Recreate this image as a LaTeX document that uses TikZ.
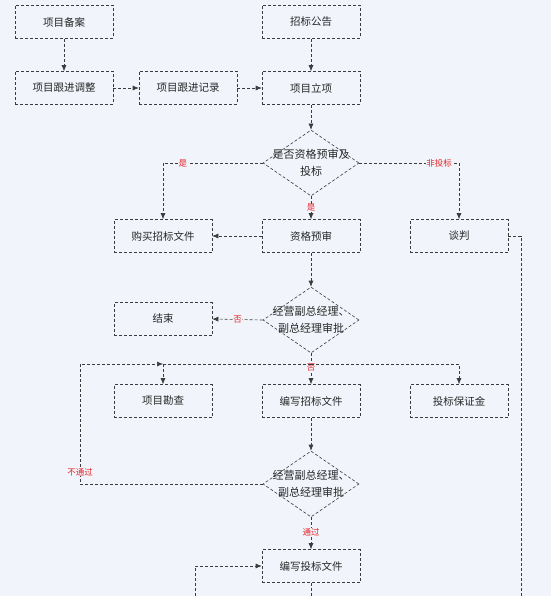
\documentclass[tikz,border=0pt]{standalone}
\usepackage{fontspec}
\setmainfont{Noto Sans CJK SC}
\usetikzlibrary{shapes.geometric,arrows.meta}
\definecolor{bgblue}{RGB}{241,245,251}
\definecolor{linegray}{RGB}{60,60,60}
\definecolor{labelred}{RGB}{228,38,42}
\tikzset{box/.style={draw=linegray,densely dashed,line width=0.6pt,fill=bgblue,minimum width=98pt,minimum height=33pt,font=\fontsize{10.5}{12}\selectfont,text=black!85}}
\tikzset{decision/.style={diamond,draw=linegray,densely dashed,line width=0.6pt,minimum width=96pt,minimum height=66pt,inner sep=0pt}}
\tikzset{dtext/.style={align=center,font=\fontsize{11}{17}\selectfont,text=black!85}}
\tikzset{flow/.style={densely dashed,line width=0.6pt,draw=linegray,-{Latex[length=6pt,width=5pt]}}}
\tikzset{link/.style={densely dashed,line width=0.6pt,draw=linegray}}
\tikzset{yesno/.style={text=labelred,fill=bgblue,inner sep=0.5pt,font=\fontsize{8.5}{10}\selectfont}}

\begin{document}
\begin{tikzpicture}[x=1pt,y=-1pt]
        % Background and page size
        \fill[bgblue] (0,0) rectangle (551,596);
        \useasboundingbox (0,0) rectangle (551,596);
        % Top rows
        \node[box] (beian) at (64,22) {项目备案};
        \node[box] (tiaozheng) at (64,88) {项目跟进调整};
        \node[box] (jilu) at (188,88) {项目跟进记录};
        \node[box] (gonggao) at (311,22) {招标公告};
        \node[box] (lixiang) at (311,88) {项目立项};
        % First decision
        \node[decision] (d1) at (311,163) {};
        \node[dtext] (d1text) at (d1) {是否资格预审及\\投标};
        \node[box] (goumai) at (163,236) {购买招标文件};
        \node[box] (zige) at (311,236) {资格预审};
        \node[box] (tanpan) at (459,236) {谈判};
        % Second decision
        \node[decision] (d2) at (311,320) {};
        \node[dtext] (d2text) at (d2) {经营副总经理、\\副总经理审批};
        \node[box] (jieshu) at (163,319) {结束};
        \node[box] (kancha) at (163,401) {项目勘查};
        \node[box] (zhaobiao) at (311,401) {编写招标文件};
        \node[box] (baozheng) at (459,401) {投标保证金};
        % Third decision
        \node[decision] (d3) at (311,484) {};
        \node[dtext] (d3text) at (d3) {经营副总经理、\\副总经理审批};
        \node[box] (toubiao) at (311,566) {编写投标文件};
        % Helper coordinates
        \coordinate (fork) at (311,364);
        \coordinate (kc) at (163,364);
        \coordinate (loop) at (80,364);
        \coordinate (inlow) at (195,596);
        \coordinate (outlow) at (311,596);
        \coordinate (tanlow) at (521,596);
        % Connectors
        \draw[flow] (beian) -- (tiaozheng);
        \draw[flow] (tiaozheng) -- (jilu);
        \draw[flow] (jilu) -- (lixiang);
        \draw[flow] (gonggao) -- (lixiang);
        \draw[flow] (lixiang) -- (d1);
        \draw[flow] (d1.west) -| (goumai.north) node[yesno,pos=0.4]{是};
        \draw[flow] (d1.east) -| (tanpan.north) node[yesno,pos=0.4]{非投标};
        \draw[flow] (d1.south) -- (zige.north) node[yesno,midway]{是};
        \draw[flow] (zige) -- (goumai);
        \draw[flow] (zige) -- (d2);
        \draw[flow] (d2.west) -- (jieshu.east) node[yesno,midway]{否};
        \draw[flow] (d2.south) -- (zhaobiao.north) node[yesno,pos=0.45]{否};
        \draw[flow] (kc) -- (kancha.north);
        \draw[flow] (fork) -| (baozheng.north);
        \draw[link] (fork) -- (kc);
        \draw[flow] (zhaobiao) -- (d3);
        \draw[flow] (d3.west) -| (loop) node[yesno,pos=0.55]{不通过} -- (kc);
        \draw[flow] (d3.south) -- (toubiao.north) node[yesno,pos=0.48]{通过};
        \draw[flow] (inlow) |- (toubiao.west);
        \draw[link] (toubiao.south) -- (outlow);
        \draw[link] (tanpan.east) -| (tanlow);
\end{tikzpicture}
\end{document}
